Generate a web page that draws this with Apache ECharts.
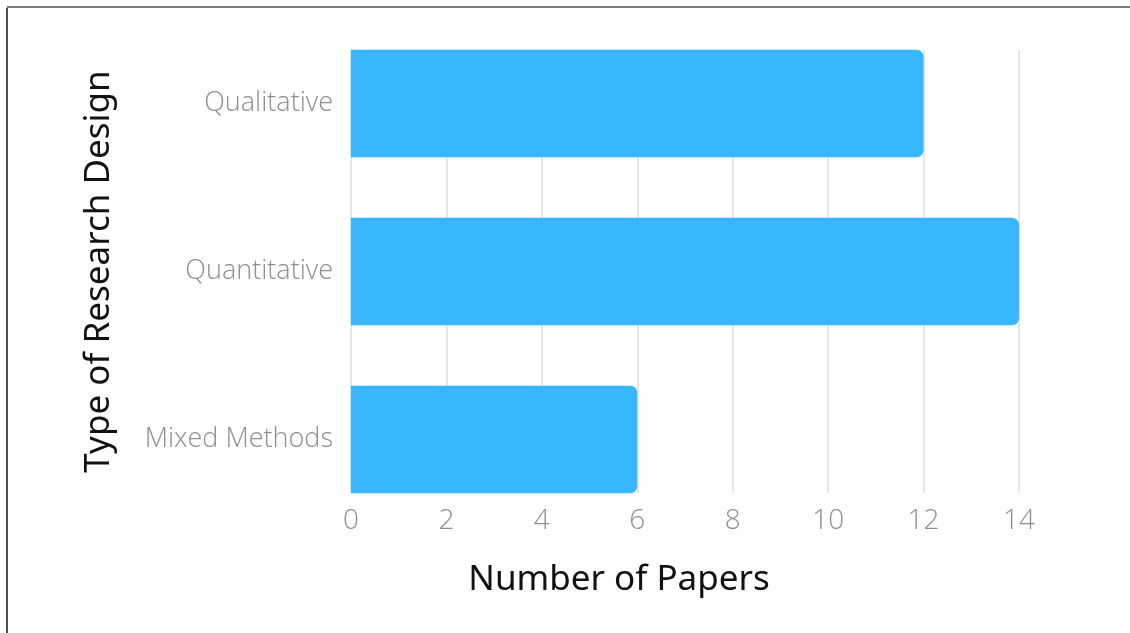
<!DOCTYPE html>
<html>
<head>
<meta charset="utf-8">
<script src="https://cdn.jsdelivr.net/npm/echarts@6/dist/echarts.min.js"></script>
<style>
  html, body { margin: 0; padding: 0; background: #fff; }
  #chart { width: 1130px; height: 633px; }
</style>
</head>
<body>
<div id="chart"></div>
<script>
// Research design categories and paper counts
const categories = ['Qualitative', 'Quantitative', 'Mixed Methods'];
const paperCounts = [12, 14, 6];
const xTicks = { min: 0, max: 14, interval: 2 };
const xTitle = 'Number of Papers';
const yTitle = 'Type of Research Design';

const chart = echarts.init(document.getElementById('chart'));

const labelFont = { fontFamily: '"Open Sans", sans-serif', fontWeight: 300, color: '#8f8f8f' };
const titleFont = { fontFamily: '"Noto Sans", sans-serif', fontSize: 35, color: '#111' };

chart.setOption({
  backgroundColor: '#ffffff',
  animation: false,
  grid: [
    // bars
    { left: 351, right: 111, top: 19.5, height: 504, containLabel: false },
    // gridlines and value axis labels
    { left: 351, right: 111, top: 50, height: 443, containLabel: false }
  ],
  xAxis: [
    { gridIndex: 0, type: 'value', min: xTicks.min, max: xTicks.max, interval: xTicks.interval, show: false },
    {
      gridIndex: 1, type: 'value', min: xTicks.min, max: xTicks.max, interval: xTicks.interval,
      axisLine: { show: false }, axisTick: { show: false },
      splitLine: { show: true, lineStyle: { color: '#dedede', width: 1.5 } },
      axisLabel: Object.assign({ margin: 14, fontSize: 28 }, labelFont)
    }
  ],
  yAxis: [
    {
      gridIndex: 0, type: 'category', data: categories, inverse: true,
      axisLine: { show: false }, axisTick: { show: false }, splitLine: { show: false },
      axisLabel: Object.assign({ margin: 18, fontSize: 27 }, labelFont),
      name: yTitle, nameLocation: 'middle', nameGap: 234, nameRotate: 90,
      nameTextStyle: titleFont
    },
    { gridIndex: 1, type: 'value', show: false }
  ],
  graphic: [
    { type: 'line', shape: { x1: 7, y1: 7, x2: 1130, y2: 7 }, style: { stroke: '#7a7a7a', lineWidth: 2 } },
    { type: 'line', shape: { x1: 7, y1: 8, x2: 7, y2: 633 }, style: { stroke: '#111', lineWidth: 1.5 } },
    {
      type: 'text', position: [619, 580],
      style: { text: xTitle, x: 0, y: 0, align: 'center', verticalAlign: 'middle',
        fontFamily: titleFont.fontFamily, fontSize: titleFont.fontSize, fill: titleFont.color }
    }
  ],
  series: [{
    type: 'bar',
    xAxisIndex: 0, yAxisIndex: 0,
    data: paperCounts,
    barCategoryGap: '36%',
    z: 3,
    itemStyle: { color: '#38b6ff', borderRadius: [0, 7, 7, 0] }
  }]
});
</script>
</body>
</html>
